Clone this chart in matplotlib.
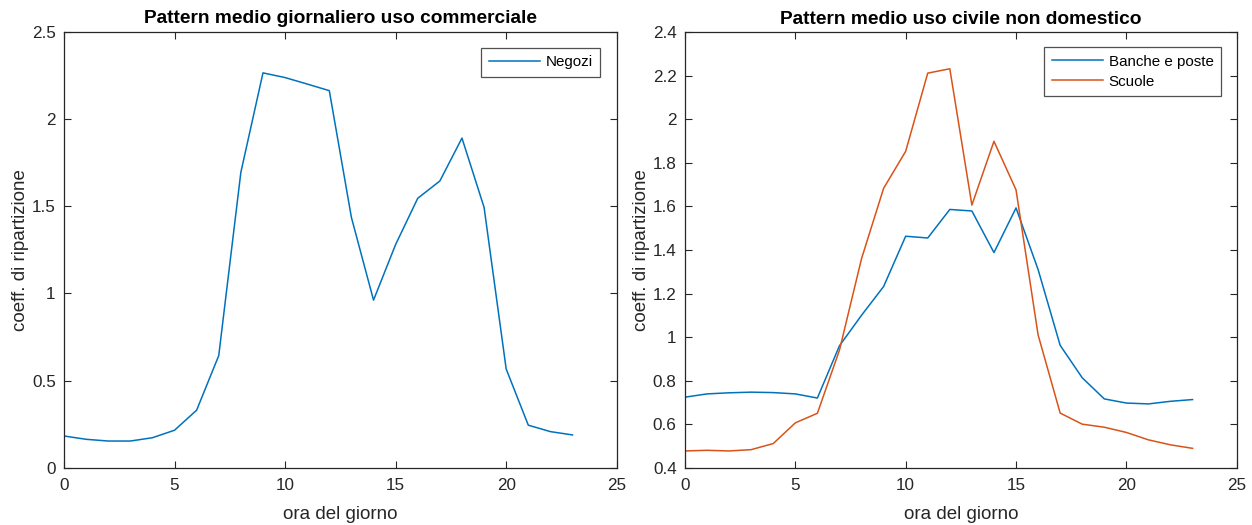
import matplotlib
matplotlib.use("Agg")
import matplotlib.pyplot as plt
from matplotlib.ticker import FuncFormatter

hours = list(range(24))

negozi = [0.182, 0.163, 0.153, 0.153, 0.172, 0.215, 0.33, 0.643, 1.694, 2.264,
          2.237, 2.20, 2.162, 1.435, 0.961, 1.28, 1.545, 1.644, 1.89, 1.493,
          0.566, 0.244, 0.207, 0.188]

banche_poste = [0.724, 0.739, 0.744, 0.747, 0.745, 0.739, 0.72, 0.96, 1.10, 1.232,
                1.463, 1.455, 1.586, 1.579, 1.388, 1.593, 1.31, 0.962, 0.813, 0.716,
                0.697, 0.693, 0.705, 0.713]

scuole = [0.477, 0.480, 0.477, 0.483, 0.511, 0.606, 0.65, 0.94, 1.36, 1.683,
          1.853, 2.212, 2.232, 1.606, 1.899, 1.676, 1.01, 0.651, 0.60, 0.586,
          0.562, 0.528, 0.505, 0.489]

xticks = [0, 5, 10, 15, 20, 25]
left_yticks = [0, 0.5, 1, 1.5, 2, 2.5]
right_yticks = [0.4, 0.6, 0.8, 1, 1.2, 1.4, 1.6, 1.8, 2, 2.2, 2.4]

title_left = "Pattern medio giornaliero uso commerciale"
title_right = "Pattern medio uso civile non domestico"
xlabel = "ora del giorno"
ylabel = "coeff. di ripartizione"

BLUE = "#0072BD"
ORANGE = "#D95319"
TXT = "#262626"

plt.rcParams['font.family'] = ['Liberation Sans', 'DejaVu Sans']

fig = plt.figure(figsize=(12.52, 5.25), dpi=100)
ax1 = fig.add_axes([0.0511, 0.1091, 0.4415, 0.8305])
ax2 = fig.add_axes([0.5471, 0.1091, 0.4407, 0.8296])

fmt = FuncFormatter(lambda v, p: f"{v:g}")


def style(ax, yticks):
    ax.set_xlim(0, 25)
    ax.set_ylim(yticks[0], yticks[-1])
    ax.set_xticks(xticks)
    ax.set_yticks(yticks)
    ax.xaxis.set_major_formatter(fmt)
    ax.yaxis.set_major_formatter(fmt)
    ax.tick_params(direction='in', length=5, width=0.8, colors=TXT,
                   labelsize=12.3, top=True, right=True)
    ax.tick_params(axis='x', pad=7.5)
    ax.tick_params(axis='y', pad=6)
    for s in ax.spines.values():
        s.set_color(TXT)
        s.set_linewidth(0.9)
    ax.set_xlabel(xlabel, fontsize=13.5, color=TXT, labelpad=9)
    ax.set_ylabel(ylabel, fontsize=13.5, color=TXT, labelpad=2)


def legend(ax, anchor):
    leg = ax.legend(loc='upper right', bbox_to_anchor=anchor, borderaxespad=0,
                    fontsize=10.9, frameon=True, fancybox=False, handlelength=3.4,
                    handletextpad=0.35, borderpad=0.5, labelspacing=0.38)
    leg.get_frame().set_edgecolor(TXT)
    leg.get_frame().set_linewidth(0.9)
    return leg


ax1.plot(hours, negozi, color=BLUE, lw=1.1, label="Negozi")
style(ax1, left_yticks)
ax1.set_title(title_left, fontsize=13.8, fontweight='bold', color='black', pad=6)
legend(ax1, (0.970, 0.963))

ax2.plot(hours, banche_poste, color=BLUE, lw=1.1, label="Banche e poste")
ax2.plot(hours, scuole, color=ORANGE, lw=1.1, label="Scuole")
style(ax2, right_yticks)
ax2.set_title(title_right, fontsize=13.8, fontweight='bold', color='black', pad=6)
legend(ax2, (0.9715, 0.9655))

fig.savefig("out.png", dpi=100, facecolor='white')
